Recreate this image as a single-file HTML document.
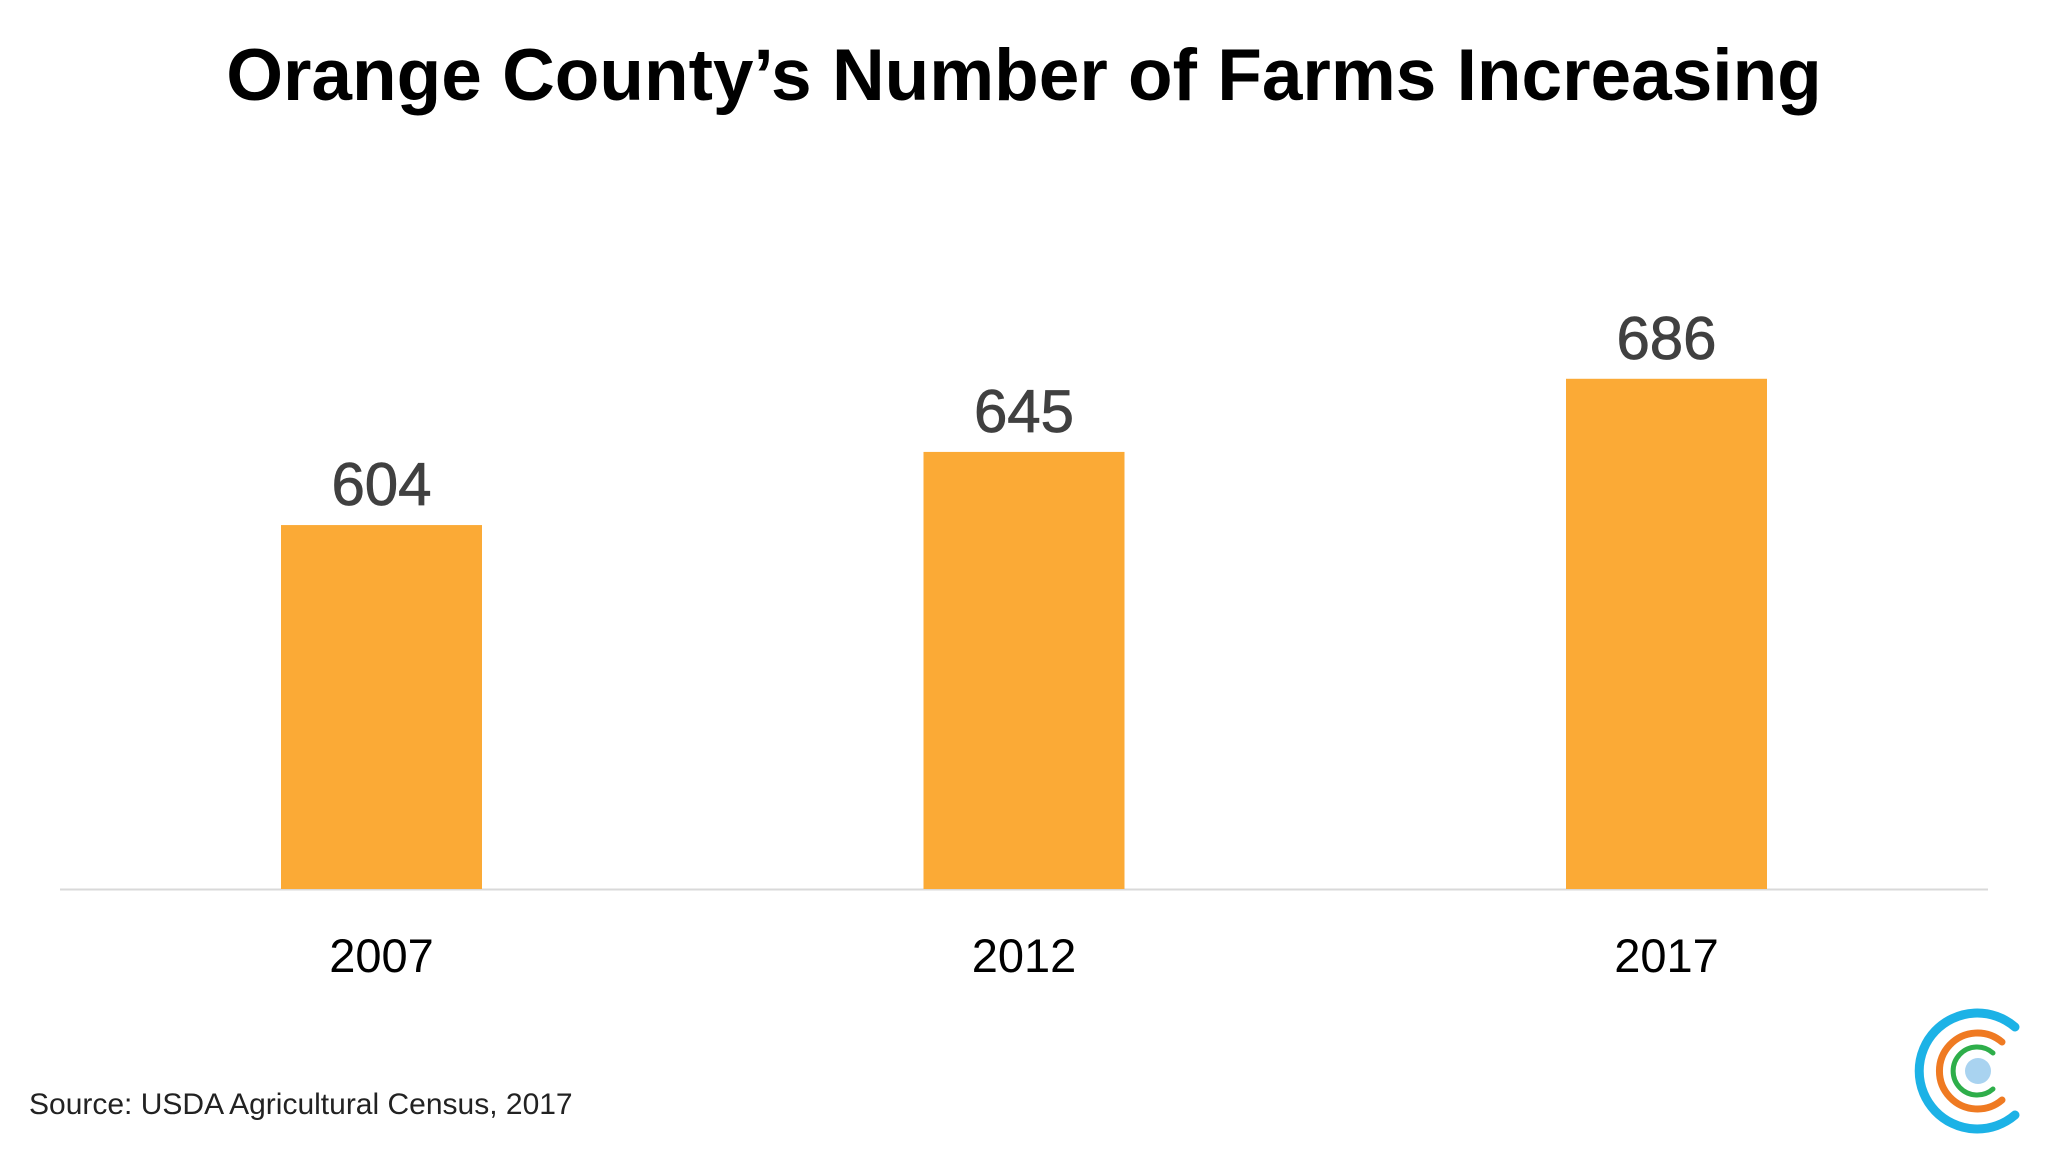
<!DOCTYPE html>
<html><head><meta charset="utf-8"><style>
body{margin:0;width:2048px;height:1152px;background:#fff;overflow:hidden;font-family:"Liberation Sans",sans-serif}
</style></head><body>
<svg width="2048" height="1152" id="c">
<text x="1024" y="100" text-anchor="middle" font-size="73" font-weight="bold" fill="#000">Orange County’s Number of Farms Increasing</text>
<line x1="60" y1="889.5" x2="1988" y2="889.5" stroke="#d9d9d9" stroke-width="2"/>
<g id="bars"></g>
<text x="29" y="1114" font-size="30" fill="#222">Source: USDA Agricultural Census, 2017</text>
<g fill="none" stroke-linecap="round">
<path d="M2015,1027 A58,58 0 1 0 2015,1115" stroke="#1cb2e6" stroke-width="9"/>
<path d="M2002,1042 A38,38 0 1 0 2002,1100" stroke="#ef7a22" stroke-width="7"/>
<path d="M1993,1053 A24,24 0 1 0 1993,1089" stroke="#2eae4a" stroke-width="5"/>
<circle cx="1978" cy="1071" r="13" fill="#a9d3f0" stroke="none"/>
</g>
</svg>
<script>
const categories=["2007","2012","2017"];
const values=[604,645,686];
const labels=["604","645","686"];
const yMin=400, baseY=889, pxPerUnit=1.784;
function y(v){return baseY-(v-yMin)*pxPerUnit;}
function xCenter(i){return 381.5+i*642.5;}
const g=document.getElementById('bars');
const ns="http://www.w3.org/2000/svg";
categories.forEach((c,i)=>{
  const r=document.createElementNS(ns,'rect');
  r.setAttribute('x',xCenter(i)-100.5);r.setAttribute('width',201);
  r.setAttribute('y',y(values[i]));r.setAttribute('height',baseY-y(values[i]));
  r.setAttribute('fill','#fbaa36');
  
  
  g.appendChild(r);
  const t=document.createElementNS(ns,'text');
  t.setAttribute('x',xCenter(i));t.setAttribute('y',y(values[i])-20);
  t.setAttribute('text-anchor','middle');t.setAttribute('font-size','60');t.setAttribute('fill','#404040');
  t.setAttribute('stroke','#404040');t.setAttribute('stroke-width','0.8');
  t.textContent=labels[i];
  
  
  g.appendChild(t);
  const x=document.createElementNS(ns,'text');
  x.setAttribute('x',xCenter(i));x.setAttribute('y',972);
  x.setAttribute('text-anchor','middle');x.setAttribute('font-size','47');x.setAttribute('fill','#000');
  x.textContent=c;
  
  
  g.appendChild(x);
});
</script>
</body></html>
